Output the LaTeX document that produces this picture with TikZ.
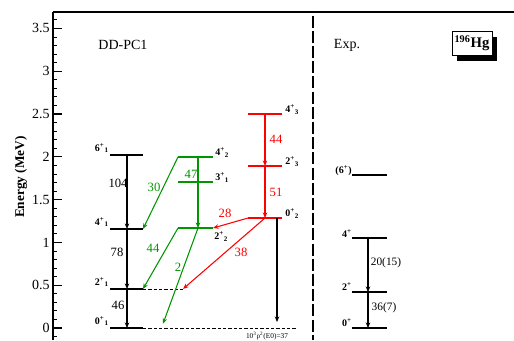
\documentclass[tikz,border=0pt]{standalone}
\usepackage{fontspec}
\setmainfont{Liberation Serif}
\usepackage{xcolor}
\usepackage{tikz}
\usetikzlibrary{arrows.meta,calc,shadows}
\definecolor{gline}{RGB}{0,150,0}
\definecolor{rline}{RGB}{255,0,0}
\tikzset{
    lvl/.style={line width=1.1pt},
    tr/.style={-{Stealth[length=4.2pt,width=3.4pt]},line width=0.8pt},
    ext/.style={dash pattern=on 2.4pt off 1.6pt,line width=0.6pt},
    num/.style={font=\fontsize{9.5}{10}\selectfont,inner sep=0pt},
    spin/.style={font=\fontsize{7.5}{8}\selectfont\bfseries,inner sep=0pt},
    axis/.style={line width=1.1pt}
}
\newcommand{\jp}[2]{#1\textsuperscript{+}\textsubscript{#2}}

\begin{document}
\begin{tikzpicture}[x=0.75pt,y=64.2pt]
  \useasboundingbox (0,-0.140) rectangle (514,3.832);
  % frame and energy axis
  \draw[axis] (53,-0.140) -- (53,3.692);
  \draw[line width=0.8pt] (53,3.692) -- (514,3.692);
  \foreach \i in {-1,...,36} {\draw[line width=0.6pt] (53,{\i/10}) -- ++(4,0);}
  \foreach \e in {0,0.5,1,1.5,2,2.5,3,3.5} {
    \draw[line width=0.8pt] (53,\e) -- ++(9,0);
    \node[num,anchor=east,font=\fontsize{10.5}{11}\selectfont] (t\e) at (50,\e) {\e};
  }
  \node[rotate=90,font=\fontsize{10}{11}\selectfont\bfseries] (ylab) at (21,1.764) {Energy (MeV)};
  % separator theory / experiment
  \draw[line width=1.5pt,dash pattern=on 9pt off 2.4pt] (313,3.65) -- (313,-0.140);
  \node[font=\fontsize{10.5}{11}\selectfont] (dd) at (123,3.306) {DD-PC1};
  \node[font=\fontsize{10.5}{11}\selectfont] (exp) at (347,3.306) {Exp.};
  \node[draw,fill=white,line width=0.6pt,minimum width=30pt,minimum height=18pt,inner sep=1pt,
        general shadow={fill=black,shadow xshift=3.8pt,shadow yshift=-4.5pt},
        font=\fontsize{11}{12}\selectfont\bfseries] (hg) at (472,3.33) {\textsuperscript{196}Hg};
  % transition columns
  \coordinate (ax1) at (127,0);
  \coordinate (ax2) at (198,0);
  \coordinate (ax3) at (265,0);
  \coordinate (ax4) at (277,0);
  \coordinate (ax5) at (368,0);
  % levels: ground band, green band, red band, experiment
  \foreach \n/\e in {g0/0,g2/0.456,g4/1.157,g6/2.021} {
    \coordinate (\n l) at (110,\e); \coordinate (\n r) at (143,\e);
    \draw[lvl] (\n l) -- (\n r);
  }
  \foreach \n/\e in {gb4/1.998,gb3/1.706,gb2/1.168} {
    \coordinate (\n l) at (178,\e); \coordinate (\n r) at (213,\e);
    \draw[lvl,gline] (\n l) -- (\n r);
  }
  \foreach \n/\e in {rb4/2.5,rb2/1.893,rb0/1.285} {
    \coordinate (\n l) at (248,\e); \coordinate (\n r) at (282,\e);
    \draw[lvl,rline] (\n l) -- (\n r);
  }
  \foreach \n/\e in {e0/0,e2/0.42,e4/1.05,e6/1.787} {
    \coordinate (\n l) at (352,\e); \coordinate (\n r) at (387,\e);
    \draw[lvl] (\n l) -- (\n r);
  }
  % dashed extensions
  \coordinate (d2) at (183,0.456);
  \coordinate (d0) at (297,0);
  \draw[ext] (g2r) -- (d2);
  \draw[ext] (g0r) -- (d0);
  % spin labels
  \node[spin,anchor=base east] (s61) at (109,2.066) {\jp{6}{1}};
  \node[spin,anchor=base east] (s41) at (109,1.202) {\jp{4}{1}};
  \node[spin,anchor=base east] (s21) at (109,0.501) {\jp{2}{1}};
  \node[spin,anchor=base east] (s01) at (109,0.045) {\jp{0}{1}};
  \node[spin,anchor=base west] (s42) at (215,2.01) {\jp{4}{2}};
  \node[spin,anchor=base west] (s31) at (215,1.718) {\jp{3}{1}};
  \node[spin,anchor=base west] (s22) at (214,1.03) {\jp{2}{2}};
  \node[spin,anchor=base west] (s43) at (285,2.512) {\jp{4}{3}};
  \node[spin,anchor=base west] (s23) at (285,1.905) {\jp{2}{3}};
  \node[spin,anchor=base west] (s02) at (285,1.297) {\jp{0}{2}};
  \node[spin,anchor=base east] (x6) at (352,1.80) {(6\textsuperscript{+})};
  \node[spin,anchor=base east] (x4) at (352,1.063) {4\textsuperscript{+}};
  \node[spin,anchor=base east] (x2) at (352,0.433) {2\textsuperscript{+}};
  \node[spin,anchor=base east] (x0) at (352,0.013) {0\textsuperscript{+}};
  % ground band transitions
  \draw[tr] (g6l -| ax1) -- (g4l -| ax1);
  \draw[tr] (g4l -| ax1) -- (g2l -| ax1);
  \draw[tr] (g2l -| ax1) -- (g0l -| ax1);
  \node[num] (b104) at (118,1.694) {104};
  \node[num] (b78) at (117,0.888) {78};
  \node[num] (b46) at (118,0.269) {46};
  % green transitions
  \coordinate (gend) at (163,0.05);
  \draw[tr,gline] (gb4l -| ax2) -- (gb2l -| ax2);
  \draw[tr,gline] (gb4l) -- (g4r);
  \draw[tr,gline] (gb2l) -- (g2r);
  \draw[tr,gline] (gb2l -| ax2) -- (gend);
  \node[num,text=gline] (l30) at (154,1.647) {30};
  \node[num,text=gline] (l47) at (191,1.80) {47};
  \node[num,text=gline] (l44) at (153,0.935) {44};
  \node[num,text=gline] (l2) at (178,0.713) {2};
  % red transitions
  \draw[tr,rline] (rb4l -| ax3) -- (rb2l -| ax3);
  \draw[tr,rline] (rb2l -| ax3) -- (rb0l -| ax3);
  \draw[tr,rline] (rb0l) -- (gb2r);
  \draw[tr,rline] (rb0l -| ax3) -- (d2);
  \draw[tr] (rb0l -| ax4) -- ($(g0l -| ax4)+(0,0.07)$);
  \node[num,text=rline] (r44) at (276,2.208) {44};
  \node[num,text=rline] (r51) at (276,1.589) {51};
  \node[num,text=rline] (r28) at (225,1.343) {28};
  \node[num,text=rline] (r38) at (241,0.888) {38};
  \node[font=\fontsize{5.5}{6}\selectfont,inner sep=0pt] (e0val) at (267,-0.093)
    {10\textsuperscript{3}ρ\textsuperscript{2}(E0)=37};
  % experiment transitions
  \draw[tr] (e4l -| ax5) -- (e2l -| ax5);
  \draw[tr] (e2l -| ax5) -- (e0l -| ax5);
  \node[num,font=\fontsize{8.5}{9}\selectfont] (x42) at (386,0.759) {20(15)};
  \node[num,font=\fontsize{8.5}{9}\selectfont] (x20) at (384,0.234) {36(7)};
\end{tikzpicture}
\end{document}
